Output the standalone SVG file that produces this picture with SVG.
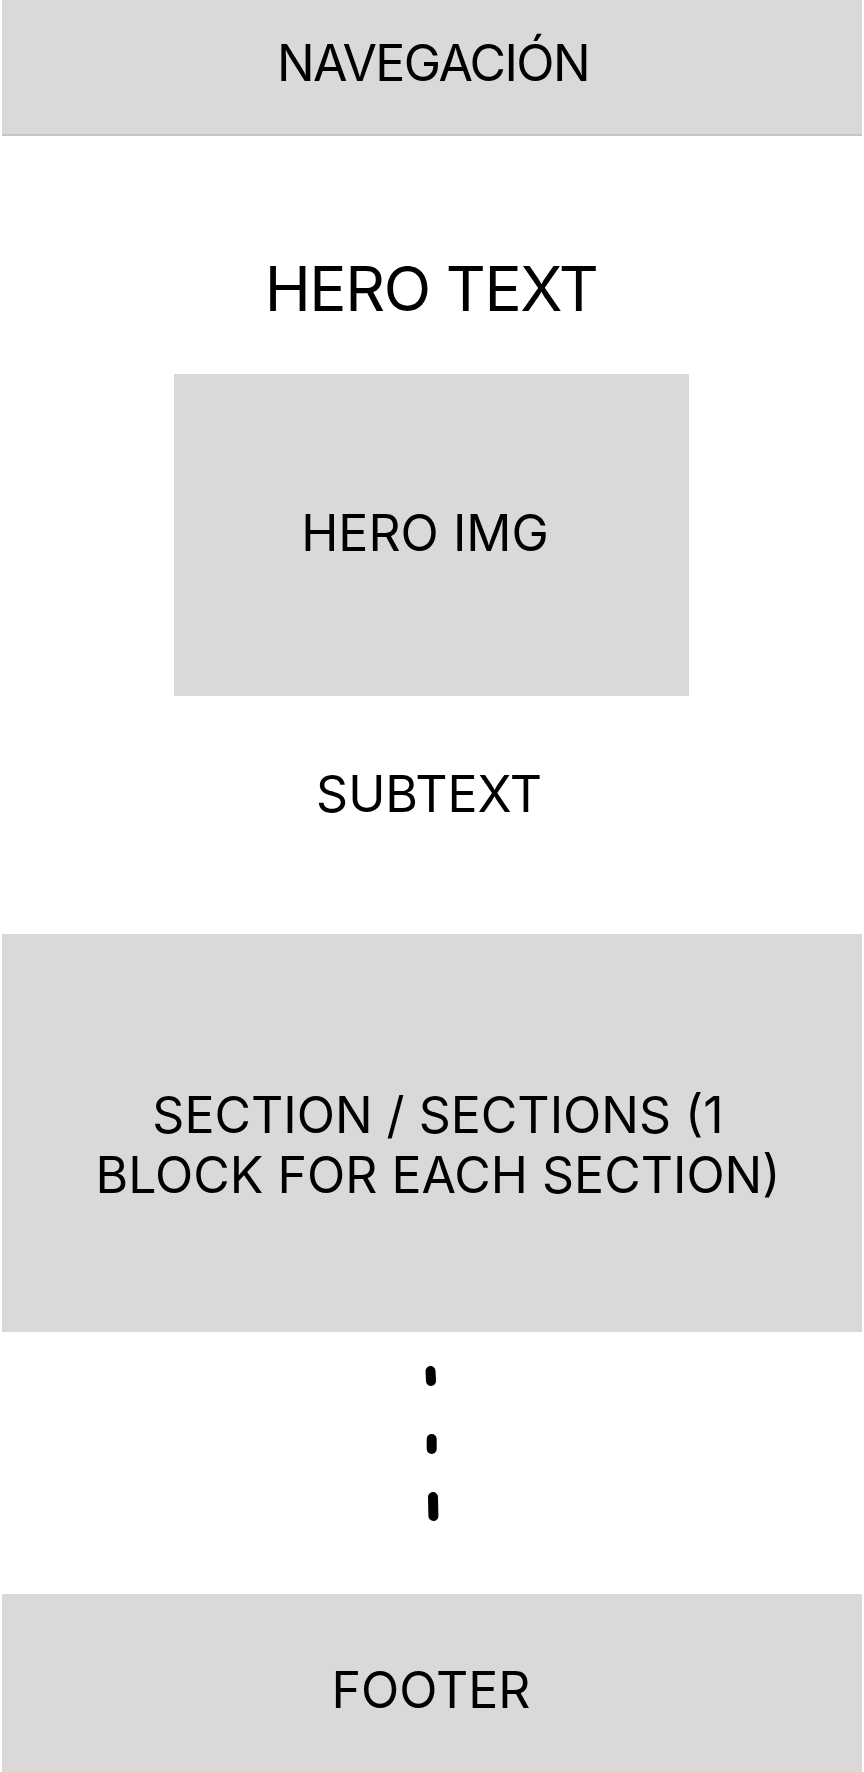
<svg xmlns="http://www.w3.org/2000/svg" width="864" height="1772" viewBox="0 0 864 1772">
  <defs>
    <style>
      .block { fill: #d9d9d9; }
      .label { font-family: Inter, "Noto Sans", "Liberation Sans", sans-serif; font-size: 50px; fill: #000; text-anchor: middle; }
      .hero { font-size: 62px; letter-spacing: -1.4px; }
      .tight { letter-spacing: -1.6px; }
      .dash { stroke: #000; stroke-width: 10; stroke-linecap: round; fill: none; }
    </style>
  </defs>
  <rect x="0" y="0" width="864" height="1772" fill="#ffffff"/>

  <!-- top navigation bar -->
  <g id="nav">
    <rect x="2" y="134" width="860" height="2" fill="#c4c4c4"/>
    <rect class="block" x="2" y="0" width="860" height="134"/>
    <text class="label tight" x="433" y="81">NAVEGACIÓN</text>
  </g>

  <!-- hero headline -->
  <g id="hero-text">
    <text class="label hero" x="431" y="311">HERO TEXT</text>
  </g>

  <!-- hero image placeholder -->
  <g id="hero-img">
    <rect class="block" x="174" y="374" width="515" height="322"/>
    <text class="label" x="425" y="551">HERO IMG</text>
  </g>

  <!-- subtext -->
  <g id="subtext">
    <text class="label" x="429" y="812">SUBTEXT</text>
  </g>

  <!-- content sections -->
  <g id="sections">
    <rect class="block" x="2" y="934" width="860" height="398"/>
    <text class="label" x="438" y="1133">SECTION / SECTIONS (1</text>
    <text class="label" x="438" y="1193">BLOCK FOR EACH SECTION)</text>
  </g>

  <!-- continuation marks between sections and footer -->
  <g id="connectors">
    <line class="dash" x1="430.5" y1="1371" x2="431" y2="1381"/>
    <line class="dash" x1="431.7" y1="1439" x2="431.7" y2="1449"/>
    <line class="dash" x1="433" y1="1497" x2="433.4" y2="1516"/>
  </g>

  <!-- footer -->
  <g id="footer">
    <rect class="block" x="2" y="1594" width="860" height="178"/>
    <text class="label" x="431" y="1708">FOOTER</text>
  </g>
</svg>
